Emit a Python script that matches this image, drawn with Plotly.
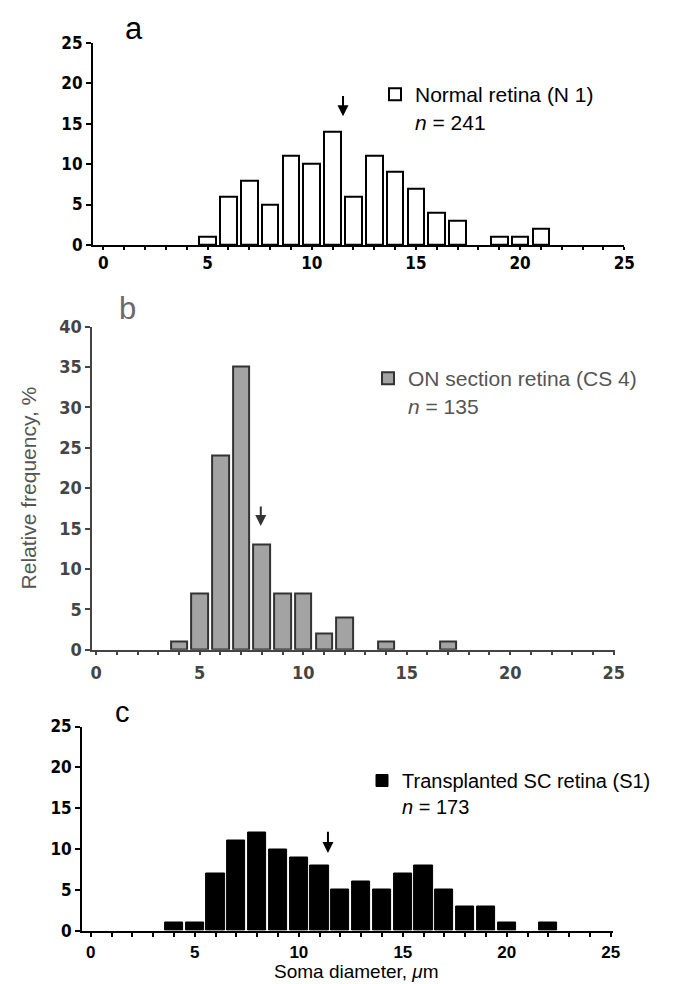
import plotly.graph_objects as go

# ---------------- data ----------------
diam_a = [5, 6, 7, 8, 9, 10, 11, 12, 13, 14, 15, 16, 17, 19, 20, 21]
freq_a = [1, 6, 8, 5, 11, 10, 14, 6, 11, 9, 7, 4, 3, 1, 1, 2]

diam_b = [4, 5, 6, 7, 8, 9, 10, 11, 12, 14, 17]
freq_b = [1, 7, 24, 35, 13, 7, 7, 2, 4, 1, 1]

diam_c = [4, 5, 6, 7, 8, 9, 10, 11, 12, 13, 14, 15, 16, 17, 18, 19, 20, 22]
freq_c = [1, 1, 7, 11, 12, 10, 9, 8, 5, 6, 5, 7, 8, 5, 3, 3, 1, 1]

mean_a = 11.5
mean_b = 7.95
mean_c = 11.4

series_names = ["Normal retina (N 1)", "ON section retina (CS 4)",
                "Transplanted SC retina (S1)"]
n_cells = [241, 135, 173]
panel_letters = ["a", "b", "c"]
x_title = "Soma diameter, <i>\u03bc</i>m"
y_title = "Relative frequency, %"

x_ticks = [0, 5, 10, 15, 20, 25]
y_ticks_a = [0, 5, 10, 15, 20, 25]
y_ticks_b = [0, 5, 10, 15, 20, 25, 30, 35, 40]
y_ticks_c = [0, 5, 10, 15, 20, 25]

# ---------------- layout helpers ----------------
W, H = 673, 984


def fx(px):
    return px / W


def fy(py):
    return 1 - py / H


NARROW = "Liberation Sans Narrow, DejaVu Sans Condensed, Arial Narrow, sans-serif"
TEXTFONT = "Liberation Sans, Arial, Helvetica, sans-serif"

fig = go.Figure()

fig.add_trace(go.Bar(
    x=diam_a, y=freq_a, width=0.8, xaxis="x", yaxis="y",
    name=series_names[0] + "<br><i>n</i> = " + str(n_cells[0]),
    marker=dict(color="white", line=dict(color="black", width=2)),
    legend="legend", showlegend=True))

fig.add_trace(go.Bar(
    x=diam_b, y=freq_b, width=0.8, xaxis="x2", yaxis="y2",
    name=series_names[1] + "<br><i>n</i> = " + str(n_cells[1]),
    marker=dict(color="#a3a3a3", line=dict(color="#333333", width=2)),
    legend="legend2", showlegend=True))

fig.add_trace(go.Bar(
    x=diam_c, y=freq_c, width=0.88, xaxis="x3", yaxis="y3",
    name=series_names[2] + "<br><i>n</i> = " + str(n_cells[2]),
    marker=dict(color="black", line=dict(color="black", width=1)),
    legend="legend3", showlegend=True))


def xaxis_style(domain, rng, anchor, color, lw, family, fsize, tlen, standoff):
    return dict(
        domain=domain, range=rng, anchor=anchor,
        showline=True, linecolor=color, linewidth=lw,
        showgrid=False, zeroline=False,
        ticks="outside", ticklen=tlen, tickwidth=lw, tickcolor=color,
        tickvals=x_ticks, ticktext=[str(v) for v in x_ticks],
        ticklabelstandoff=standoff,
        tickfont=dict(family=family, size=fsize, color=color, weight="bold"),
        minor=dict(dtick=1, ticks="outside", ticklen=tlen, tickwidth=lw,
                   tickcolor=color, showgrid=False),
        fixedrange=True, automargin=False)


def yaxis_style(domain, rng, anchor, color, lw, family, fsize, vals):
    return dict(
        domain=domain, range=rng, anchor=anchor,
        showline=True, linecolor=color, linewidth=lw,
        showgrid=False, zeroline=False,
        ticks="outside", ticklen=5, tickwidth=lw, tickcolor=color,
        tickvals=vals, ticktext=[str(v) for v in vals],
        tickfont=dict(family=family, size=fsize, color=color, weight="bold"),
        fixedrange=True, automargin=False)


fig.update_layout(
    width=W, height=H,
    margin=dict(l=0, r=0, t=0, b=0),
    paper_bgcolor="white", plot_bgcolor="rgba(0,0,0,0)",
    bargap=0, barmode="overlay",
    xaxis=xaxis_style([fx(85), fx(616.3)], [-0.5, 25.0], "y", "black", 2,
                      NARROW, 17, 3, -1),
    yaxis=yaxis_style([fy(237), fy(34.7)], [0, 25], "x", "black", 2,
                      NARROW, 17, y_ticks_a),
    xaxis2=xaxis_style([fx(84.1), fx(606.7)], [-0.2, 25.05], "y2", "#444444", 1.5,
                       NARROW, 18, 4, 2),
    yaxis2=yaxis_style([fy(641.7), fy(318.5)], [0, 40], "x2", "#444444", 1.5,
                       NARROW, 18, y_ticks_b),
    xaxis3=xaxis_style([fx(74.1), fx(604.9)], [-0.42, 25.1], "y3", "black", 2,
                       TEXTFONT, 17, 4, 1),
    yaxis3=yaxis_style([fy(922.7), fy(718.5)], [0, 25], "x3", "black", 2,
                       NARROW, 17, y_ticks_c),
)

fig.layout.yaxis2.title = dict(text=y_title, standoff=17,
                               font=dict(family=TEXTFONT, size=21, color="#555555"))

legend_common = dict(xanchor="left", yanchor="top", bgcolor="rgba(0,0,0,0)",
                     borderwidth=0, valign="top", itemwidth=30,
                     itemclick=False, itemdoubleclick=False)
fig.update_layout(
    legend=dict(x=fx(367), y=fy(66),
                font=dict(family=TEXTFONT, size=21, color="black"), **legend_common),
    legend2=dict(x=fx(360), y=fy(350),
                 font=dict(family=TEXTFONT, size=21, color="#555555"), **legend_common),
    legend3=dict(x=fx(354), y=fy(753),
                 font=dict(family=TEXTFONT, size=20, color="black"), **legend_common),
)

# x-axis title of the bottom panel
fig.add_annotation(x=fx(348), y=fy(963), xref="paper", yref="paper",
                   text=x_title, showarrow=False, xanchor="center",
                   yanchor="middle",
                   font=dict(family=TEXTFONT, size=19, color="black"))

# mean arrows
arrows = [(mean_a, "x", "y", 15.9, 18.6, "black"),
          (mean_b, "x2", "y2", 15.3, 17.9, "#333333"),
          (mean_c, "x3", "y3", 9.5, 12.3, "black")]
for m, xr, yr, tip, top, col in arrows:
    fig.add_annotation(x=m, y=tip, ax=m, ay=top, xref=xr, yref=yr,
                       axref=xr, ayref=yr, text="", showarrow=True,
                       arrowhead=2, arrowsize=1.1, arrowwidth=2, arrowcolor=col)

# panel letters
letter_pos = [(125.6, 20.5, 31, "black"), (119, 300, 31, "#6a6a6a"),
              (114, 703.5, 29, "black")]
for letter, (px, py, fs, col) in zip(panel_letters, letter_pos):
    fig.add_annotation(x=fx(px), y=fy(py), xref="paper", yref="paper",
                       text=letter, showarrow=False, xanchor="center",
                       yanchor="middle",
                       font=dict(family=TEXTFONT, size=fs, color=col))

fig.write_html("out.html")
